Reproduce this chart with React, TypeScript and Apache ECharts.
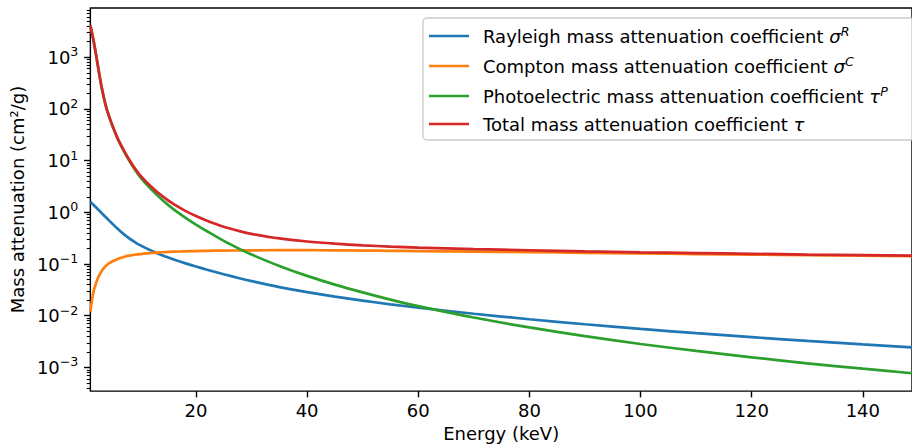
import { useEffect, useRef } from 'react';
import * as echarts from 'echarts';

// Photon energy grid (keV)
const energies = [1, 1.5, 2, 2.5, 3, 3.5, 4, 5, 6, 7, 8, 9, 10, 12, 14, 16, 18, 20, 22, 25, 28, 30, 35, 40, 45, 50, 55, 60, 70, 80, 90, 100, 110, 120, 130, 140, 150];

// Mass attenuation coefficients (cm^2/g)
const rayleigh = [1.6, 1.413, 1.249, 1.104, 0.975, 0.861, 0.762, 0.596, 0.47, 0.378, 0.313, 0.265, 0.229, 0.18, 0.1466, 0.1225, 0.104, 0.0895, 0.0776, 0.0634, 0.0526, 0.0468, 0.0358, 0.0286, 0.0234, 0.0196, 0.01663, 0.01432, 0.01091, 0.00855, 0.00684, 0.00556, 0.00459, 0.00385, 0.00326, 0.00279, 0.0024];
const compton = [0.012, 0.027, 0.042, 0.058, 0.072, 0.085, 0.097, 0.113, 0.127, 0.137, 0.145, 0.151, 0.156, 0.164, 0.169, 0.173, 0.176, 0.178, 0.18, 0.182, 0.183, 0.184, 0.185, 0.185, 0.184, 0.182, 0.18, 0.178, 0.174, 0.17, 0.165, 0.16, 0.156, 0.152, 0.148, 0.145, 0.141];
const photoelectric = [4100, 2300, 1150, 546, 272, 152, 94, 46, 25.2, 15.5, 9.9, 6.7, 4.75, 2.75, 1.72, 1.14, 0.8, 0.58, 0.43, 0.28, 0.192, 0.1524, 0.0918, 0.059, 0.04, 0.0283, 0.0205, 0.01535, 0.00923, 0.00594, 0.00403, 0.00284, 0.00209, 0.00157, 0.0012, 0.000944, 0.000751];
const total = [4101.6, 2301.4, 1151.3, 547.2, 273, 152.9, 94.86, 46.71, 25.8, 16.02, 10.36, 7.12, 5.14, 3.09, 2.036, 1.436, 1.08, 0.8475, 0.6876, 0.5254, 0.4276, 0.3832, 0.3126, 0.2726, 0.2474, 0.2299, 0.2171, 0.2077, 0.1941, 0.1845, 0.1759, 0.1684, 0.1627, 0.1574, 0.1525, 0.1487, 0.1442];

// Axis ticks
const xTicks = [20, 40, 60, 80, 100, 120, 140];
const yMajorTicks = [1e-3, 1e-2, 1e-1, 1, 10, 100, 1000];
const yMinorTicks: number[] = [];
for (let p = -4; p <= 3; p++) {
  for (let m = 2; m <= 9; m++) yMinorTicks.push(Number((m * Math.pow(10, p)).toPrecision(3)));
}

const Y_MIN = Math.pow(10, -3.458);
const Y_MAX = Math.pow(10, 3.952);
const X_MIN = 1;
const X_MAX = 148.85;

const FONT = 'DejaVu Sans';
const COLORS = ['#1f77b4', '#ff7f0e', '#2ca02c', '#d62728'];

const legendEntries = [
  { text: 'Rayleigh mass attenuation coefficient', sym: 'σ', sup: 'R', values: rayleigh },
  { text: 'Compton mass attenuation coefficient', sym: 'σ', sup: 'C', values: compton },
  { text: 'Photoelectric mass attenuation coefficient', sym: 'τ', sup: 'P', values: photoelectric },
  { text: 'Total mass attenuation coefficient', sym: 'τ', sup: '', values: total },
];
const seriesName = (e: { text: string; sym: string; sup: string }) => `${e.text} ${e.sym}${e.sup}`;

export default function App() {
  const ref = useRef<HTMLDivElement>(null);

  useEffect(() => {
    if (!ref.current) return;
    const chart = echarts.init(ref.current, null, { renderer: 'svg' });

    const axisText = { color: '#000', fontFamily: FONT, fontSize: 18 };

    chart.setOption({
      animation: false,
      grid: {
        left: 88.5,
        right: -3,
        top: 8,
        height: 385,
        show: true,
        borderColor: '#000',
        borderWidth: 1.4,
        backgroundColor: 'transparent',
      },
      xAxis: {
        type: 'value',
        min: X_MIN,
        max: X_MAX,
        axisLine: { show: false },
        splitLine: { show: false },
        axisTick: { show: true, length: 6.3, lineStyle: { color: '#000', width: 1.4 }, customValues: xTicks },
        axisLabel: { ...axisText, margin: 10, customValues: xTicks },
        name: 'Energy (keV)',
        nameLocation: 'middle',
        nameGap: 31,
        nameTextStyle: axisText,
      },
      yAxis: [
        {
          type: 'log',
          logBase: 10,
          min: Y_MIN,
          max: Y_MAX,
          axisLine: { show: false },
          splitLine: { show: false },
          axisTick: { show: true, length: 6.3, lineStyle: { color: '#000', width: 1.4 }, customValues: yMajorTicks },
          axisLabel: {
            ...axisText,
            margin: 12,
            customValues: yMajorTicks,
            formatter: (v: number) => {
              const e = Math.round(Math.log10(v));
              const s = e < 0 ? '\u2212' + -e : String(e);
              return `{b|10}{s|${s}}`;
            },
            rich: {
              b: { fontFamily: FONT, fontSize: 18, color: '#000', lineHeight: 24 },
              s: { fontFamily: FONT, fontSize: 12.6, color: '#000', lineHeight: 10, verticalAlign: 'top' },
            },
          },
          name: 'Mass attenuation (cm²/g)',
          nameLocation: 'middle',
          nameRotate: 90,
          nameGap: 55,
          nameTextStyle: axisText,
        },
        {
          type: 'log',
          logBase: 10,
          min: Y_MIN,
          max: Y_MAX,
          position: 'left',
          axisLine: { show: false },
          splitLine: { show: false },
          axisLabel: { show: false },
          axisTick: { show: true, length: 3.6, lineStyle: { color: '#000', width: 1.1 }, customValues: yMinorTicks },
        },
      ],
      legend: {
        orient: 'vertical',
        left: 423,
        top: 18,
        padding: [7, 26, 7, 6],
        itemGap: 10,
        itemWidth: 40,
        itemHeight: 2.7,
        icon: 'rect',
        backgroundColor: 'rgba(255,255,255,0.8)',
        borderColor: '#cccccc',
        borderWidth: 1.4,
        borderRadius: 4,
        data: legendEntries.map(seriesName),
        formatter: (name: string) => {
          const e = legendEntries.find((l) => seriesName(l) === name)!;
          return `{t|${e.text} }{g|${e.sym}}` + (e.sup ? `{s|${e.sup}}` : '');
        },
        textStyle: {
          fontFamily: FONT,
          fontSize: 18,
          color: '#000',
          rich: {
            t: { fontFamily: FONT, fontSize: 18, color: '#000', lineHeight: 22, padding: [0, 0, 0, 9] },
            g: { fontFamily: FONT, fontSize: 18, color: '#000', lineHeight: 22, fontStyle: 'italic' },
            s: { fontFamily: FONT, fontSize: 12.6, color: '#000', lineHeight: 15, fontStyle: 'italic', verticalAlign: 'top' },
          },
        },
      },
      series: legendEntries.map((e, i) => ({
        type: 'line',
        name: seriesName(e),
        yAxisIndex: 0,
        data: energies.map((x, k) => [x, e.values[k]]),
        showSymbol: false,
        symbol: 'none',
        smooth: 0.3,
        lineStyle: { width: 2.7, color: COLORS[i] },
        itemStyle: { color: COLORS[i] },
        z: 2 + i,
      })),
    });

    return () => chart.dispose();
  }, []);

  return <div ref={ref} style={{ position: 'absolute', left: 0, top: 0, width: 912, height: 447 }} />;
}
